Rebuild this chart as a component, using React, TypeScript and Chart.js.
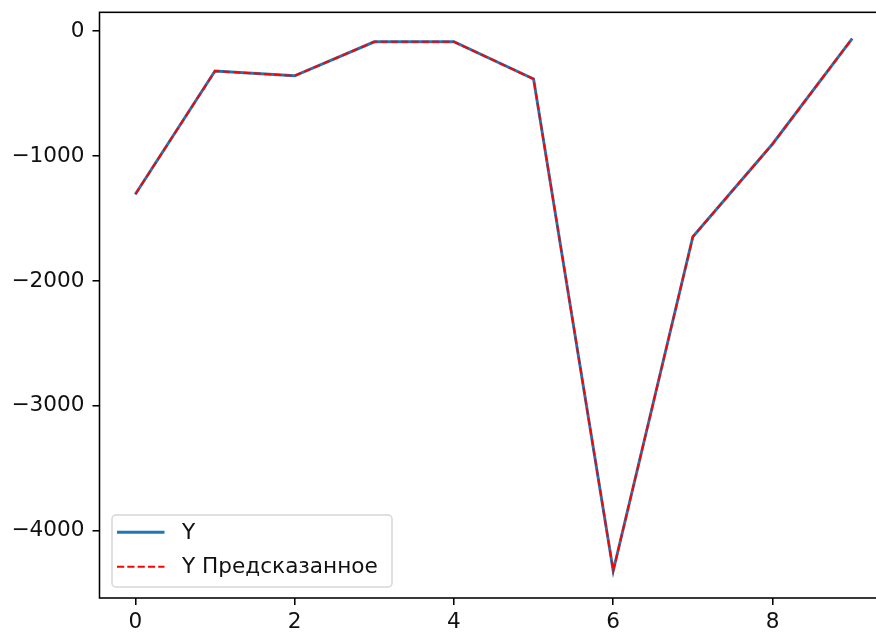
import React, { useEffect, useRef } from "react";
import { Chart, registerables } from "chart.js";

Chart.register(...registerables);

const xValues = [0, 1, 2, 3, 4, 5, 6, 7, 8, 9];
const yActual = [-1306, -320, -358, -86, -86, -384, -4320, -1646, -904, -60];
const yPredicted = [-1306, -320, -358, -86, -86, -384, -4320, -1646, -904, -60];
const xTicks = [0, 2, 4, 6, 8];
const yTicks = [0, -1000, -2000, -3000, -4000];
const seriesLabels = ["Y", "Y Предсказанное"];

const FONT = "'DejaVu Sans', sans-serif";
const FS = 21.6;
const CW = 900;
const CH = 632;

const fmt = (v: number) => (v < 0 ? "\u2212" + Math.abs(v) : String(v));

const framePlugin = {
  id: "frame",
  afterDatasetsDraw(chart: any) {
    const { ctx, chartArea: a } = chart;
    ctx.save();
    ctx.strokeStyle = "#000";
    ctx.lineWidth = 1.55;
    ctx.strokeRect(a.left, a.top, a.right - a.left, a.bottom - a.top);
    ctx.restore();
  },
};

const legendPlugin = {
  id: "mplLegend",
  afterDraw(chart: any) {
    const { ctx, chartArea: a } = chart;
    const x0 = a.left + 12.5;
    const y0 = a.bottom - 83;
    const w = 280;
    const h = 72;
    ctx.save();
    ctx.beginPath();
    (ctx as any).roundRect(x0, y0, w, h, 4);
    ctx.fillStyle = "rgba(255,255,255,0.8)";
    ctx.fill();
    ctx.strokeStyle = "rgba(204,204,204,0.8)";
    ctx.lineWidth = 1.5;
    ctx.stroke();
    const rows = [
      { label: seriesLabels[0], color: "#1f77b4", width: 2.9, dash: [] as number[] },
      { label: seriesLabels[1], color: "#ff0000", width: 1.94, dash: [7.2, 3.1] },
    ];
    rows.forEach((r, i) => {
      const cy = y0 + 17.3 + i * 34.4;
      ctx.beginPath();
      ctx.setLineDash(r.dash);
      ctx.strokeStyle = r.color;
      ctx.lineWidth = r.width;
      ctx.moveTo(x0 + 5, cy);
      ctx.lineTo(x0 + 52.5, cy);
      ctx.stroke();
      ctx.setLineDash([]);
      ctx.fillStyle = "#111";
      ctx.font = `${FS}px ${FONT}`;
      ctx.textBaseline = "middle";
      ctx.textAlign = "left";
      ctx.fillText(r.label, x0 + 70, cy + 1);
    });
    ctx.restore();
  },
};

export default function App() {
  const ref = useRef<HTMLCanvasElement>(null);
  useEffect(() => {
    document.body.style.margin = "0";
    const canvas = ref.current!;
    const chart = new Chart(canvas, {
      type: "line",
      data: {
        datasets: [
          {
            label: seriesLabels[0],
            data: xValues.map((x, i) => ({ x, y: yActual[i] })),
            borderColor: "#1f77b4",
            borderWidth: 2.9,
            pointRadius: 0,
            tension: 0,
            fill: false,
            order: 2,
          },
          {
            label: seriesLabels[1],
            data: xValues.map((x, i) => ({ x, y: yPredicted[i] })),
            borderColor: "#ff0000",
            borderWidth: 1.94,
            borderDash: [7.2, 3.1],
            pointRadius: 0,
            tension: 0,
            fill: false,
            order: 1,
          },
        ],
      },
      options: {
        responsive: false,
        animation: false,
        devicePixelRatio: 1,
        layout: { padding: { left: 0, top: 12, right: CW - 888, bottom: 0 } },
        plugins: { legend: { display: false }, tooltip: { enabled: false } },
        scales: {
          x: {
            type: "linear",
            min: -0.45,
            max: 9.45,
            afterBuildTicks: (s: any) => {
              s.ticks = xTicks.map((v) => ({ value: v }));
            },
            afterFit: (s: any) => {
              s.height = CH - 598;
            },
            border: { display: false },
            grid: {
              drawOnChartArea: false,
              drawTicks: true,
              tickLength: 7,
              tickColor: "#000",
              lineWidth: 1.55,
            },
            ticks: {
              color: "#111",
              padding: 4,
              maxRotation: 0,
              autoSkip: false,
              font: { family: FONT, size: FS },
              callback: (v: any) => fmt(Number(v)),
            },
          },
          y: {
            type: "linear",
            min: -4538,
            max: 150,
            afterBuildTicks: (s: any) => {
              s.ticks = yTicks.map((v) => ({ value: v }));
            },
            afterFit: (s: any) => {
              s.width = 99.5;
            },
            border: { display: false },
            grid: {
              drawOnChartArea: false,
              drawTicks: true,
              tickLength: 7,
              tickColor: "#000",
              lineWidth: 1.55,
            },
            ticks: {
              color: "#111",
              padding: 8,
              autoSkip: false,
              font: { family: FONT, size: FS, lineHeight: 0.4 },
              callback: (v: any) => fmt(Number(v)),
            },
          },
        },
      },
      plugins: [framePlugin, legendPlugin],
    });
    return () => chart.destroy();
  }, []);
  return (
    <div style={{ width: 876, height: CH, overflow: "hidden", position: "relative", background: "#fff" }}>
      <canvas ref={ref} width={CW} height={CH} style={{ width: CW, height: CH, display: "block" }} />
    </div>
  );
}
